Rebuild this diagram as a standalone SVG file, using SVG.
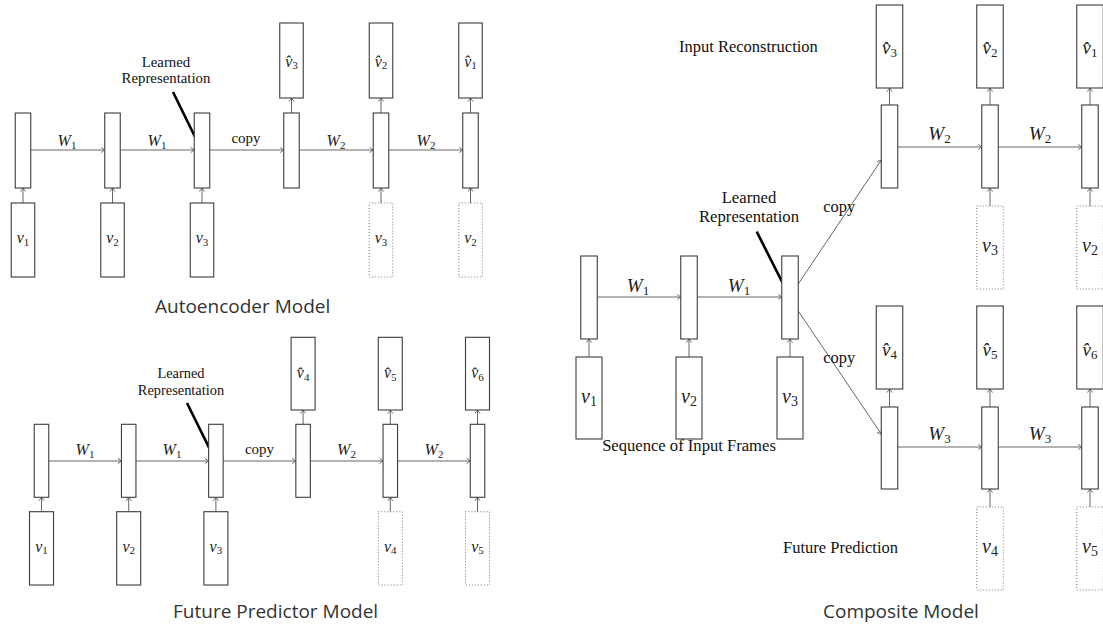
<svg xmlns="http://www.w3.org/2000/svg" width="1103" height="626" viewBox="0 0 1103 626">
  <defs>
    <style>
      .box { fill: #fff; stroke: #3c3c3c; stroke-width: 1.1; }
      .dot { fill: #fff; stroke: #777; stroke-width: 1; stroke-dasharray: 1 2; }
      .wire { fill: none; stroke: #666; stroke-width: 1; marker-end: url(#tip); }
      .ptr { stroke: #000; stroke-width: 2.6; stroke-linecap: butt; }
      .m { font-family: "Liberation Serif", "DejaVu Serif", serif; font-style: italic; text-anchor: middle; fill: #222; }
      .m tspan { font-style: normal; }
      .s { font-family: "Liberation Serif", "Times New Roman", serif; fill: #111; }
      .cap { font-family: "Open Sans", "Noto Sans", sans-serif; font-size: 19px; fill: #333; }
      .mid { text-anchor: middle; }
    </style>
    <marker id="tip" markerWidth="8" markerHeight="8" refX="0" refY="0" viewBox="-5 -4 6 8" orient="auto" markerUnits="userSpaceOnUse">
      <path d="M -3.5 -2.6 Q -1 -0.6 0 0 Q -1 0.6 -3.5 2.6" fill="none" stroke="#555" stroke-width="0.9"/>
    </marker>
  </defs>
  <rect width="1103" height="626" fill="#fff"/>

  <!-- ============ Autoencoder Model ============ -->
  <g id="connectors-autoencoder">
    <line class="wire" x1="30.75" y1="150" x2="104.75" y2="150"/>
    <line class="wire" x1="120.25" y1="150" x2="194.25" y2="150"/>
    <line class="wire" x1="209.75" y1="150" x2="283.75" y2="150"/>
    <line class="wire" x1="299.25" y1="150" x2="373.25" y2="150"/>
    <line class="wire" x1="388.75" y1="150" x2="462.75" y2="150"/>
    <line class="wire" x1="23" y1="203" x2="23" y2="188"/>
    <line class="wire" x1="112.5" y1="203" x2="112.5" y2="188"/>
    <line class="wire" x1="202" y1="203" x2="202" y2="188"/>
    <line class="wire" x1="381" y1="203" x2="381" y2="188"/>
    <line class="wire" x1="470.5" y1="203" x2="470.5" y2="188"/>
    <line class="wire" x1="291.5" y1="113" x2="291.5" y2="98"/>
    <line class="wire" x1="381" y1="113" x2="381" y2="98"/>
    <line class="wire" x1="470.5" y1="113" x2="470.5" y2="98"/>
    <line class="ptr" x1="173" y1="92" x2="199" y2="145"/>
  </g>
  <g id="ae-enc1"><rect class="box" x="15.25" y="113" width="15.5" height="75"/></g>
  <g id="ae-enc2"><rect class="box" x="104.75" y="113" width="15.5" height="75"/></g>
  <g id="ae-enc3"><rect class="box" x="194.25" y="113" width="15.5" height="75"/></g>
  <g id="ae-dec1"><rect class="box" x="283.75" y="113" width="15.5" height="75"/></g>
  <g id="ae-dec2"><rect class="box" x="373.25" y="113" width="15.5" height="75"/></g>
  <g id="ae-dec3"><rect class="box" x="462.75" y="113" width="15.5" height="75"/></g>
  <g id="ae-in1"><rect class="box" x="11.25" y="203" width="23.5" height="74"/><text class="m" x="23" y="243" font-size="16">v<tspan font-size="11" dy="2.5">1</tspan></text></g>
  <g id="ae-in2"><rect class="box" x="100.75" y="203" width="23.5" height="74"/><text class="m" x="112.5" y="243" font-size="16">v<tspan font-size="11" dy="2.5">2</tspan></text></g>
  <g id="ae-in3"><rect class="box" x="190.25" y="203" width="23.5" height="74"/><text class="m" x="202" y="243" font-size="16">v<tspan font-size="11" dy="2.5">3</tspan></text></g>
  <g id="ae-cond1"><rect class="dot" x="369.25" y="203" width="23.5" height="74"/><text class="m" x="381" y="243" font-size="16">v<tspan font-size="11" dy="2.5">3</tspan></text></g>
  <g id="ae-cond2"><rect class="dot" x="458.75" y="203" width="23.5" height="74"/><text class="m" x="470.5" y="243" font-size="16">v<tspan font-size="11" dy="2.5">2</tspan></text></g>
  <g id="ae-out1"><rect class="box" x="279.75" y="23" width="23.5" height="75"/><text class="m" x="291.5" y="66.5" font-size="16">v̂<tspan font-size="11" dy="2.5">3</tspan></text></g>
  <g id="ae-out2"><rect class="box" x="369.25" y="23" width="23.5" height="75"/><text class="m" x="381" y="66.5" font-size="16">v̂<tspan font-size="11" dy="2.5">2</tspan></text></g>
  <g id="ae-out3"><rect class="box" x="458.75" y="23" width="23.5" height="75"/><text class="m" x="470.5" y="66.5" font-size="16">v̂<tspan font-size="11" dy="2.5">1</tspan></text></g>
  <g id="ae-labels">
    <text class="m" x="67" y="146" font-size="16">W<tspan font-size="11" dy="2.5">1</tspan></text>
    <text class="m" x="157" y="146" font-size="16">W<tspan font-size="11" dy="2.5">1</tspan></text>
    <text class="s mid" x="246" y="143" font-size="15">copy</text>
    <text class="m" x="336" y="146" font-size="16">W<tspan font-size="11" dy="2.5">2</tspan></text>
    <text class="m" x="426" y="146" font-size="16">W<tspan font-size="11" dy="2.5">2</tspan></text>
    <text class="s mid" x="166" y="66.5" font-size="14.8">Learned</text>
    <text class="s mid" x="166" y="83" font-size="14.8">Representation</text>
    <text class="cap" x="155" y="313">Autoencoder Model</text>
  </g>

  <!-- ============ Future Predictor Model ============ -->
  <g id="connectors-predictor">
    <line class="wire" x1="48.75" y1="461" x2="121.45" y2="461"/>
    <line class="wire" x1="135.95" y1="461" x2="208.65" y2="461"/>
    <line class="wire" x1="223.15" y1="461" x2="295.85" y2="461"/>
    <line class="wire" x1="310.35" y1="461" x2="383.05" y2="461"/>
    <line class="wire" x1="397.55" y1="461" x2="470.25" y2="461"/>
    <line class="wire" x1="41.5" y1="511.7" x2="41.5" y2="497.3"/>
    <line class="wire" x1="128.7" y1="511.7" x2="128.7" y2="497.3"/>
    <line class="wire" x1="215.9" y1="511.7" x2="215.9" y2="497.3"/>
    <line class="wire" x1="390.3" y1="511.7" x2="390.3" y2="497.3"/>
    <line class="wire" x1="477.5" y1="511.7" x2="477.5" y2="497.3"/>
    <line class="wire" x1="303.1" y1="424.3" x2="303.1" y2="410"/>
    <line class="wire" x1="390.3" y1="424.3" x2="390.3" y2="410"/>
    <line class="wire" x1="477.5" y1="424.3" x2="477.5" y2="410"/>
    <line class="ptr" x1="187" y1="403" x2="213" y2="455.7"/>
  </g>
  <g id="fp-enc1"><rect class="box" x="34.25" y="424.3" width="14.5" height="73"/></g>
  <g id="fp-enc2"><rect class="box" x="121.45" y="424.3" width="14.5" height="73"/></g>
  <g id="fp-enc3"><rect class="box" x="208.65" y="424.3" width="14.5" height="73"/></g>
  <g id="fp-dec1"><rect class="box" x="295.85" y="424.3" width="14.5" height="73"/></g>
  <g id="fp-dec2"><rect class="box" x="383.05" y="424.3" width="14.5" height="73"/></g>
  <g id="fp-dec3"><rect class="box" x="470.25" y="424.3" width="14.5" height="73"/></g>
  <g id="fp-in1"><rect class="box" x="29.5" y="511.7" width="24" height="73.3"/><text class="m" x="41.5" y="551.7" font-size="16">v<tspan font-size="11" dy="2.5">1</tspan></text></g>
  <g id="fp-in2"><rect class="box" x="116.7" y="511.7" width="24" height="73.3"/><text class="m" x="128.7" y="551.7" font-size="16">v<tspan font-size="11" dy="2.5">2</tspan></text></g>
  <g id="fp-in3"><rect class="box" x="203.9" y="511.7" width="24" height="73.3"/><text class="m" x="215.9" y="551.7" font-size="16">v<tspan font-size="11" dy="2.5">3</tspan></text></g>
  <g id="fp-cond1"><rect class="dot" x="378.3" y="511.7" width="24" height="73.3"/><text class="m" x="390.3" y="551.7" font-size="16">v<tspan font-size="11" dy="2.5">4</tspan></text></g>
  <g id="fp-cond2"><rect class="dot" x="465.5" y="511.7" width="24" height="73.3"/><text class="m" x="477.5" y="551.7" font-size="16">v<tspan font-size="11" dy="2.5">5</tspan></text></g>
  <g id="fp-out1"><rect class="box" x="291.1" y="337.3" width="24" height="72.7"/><text class="m" x="303.1" y="378" font-size="16">v̂<tspan font-size="11" dy="2.5">4</tspan></text></g>
  <g id="fp-out2"><rect class="box" x="378.3" y="337.3" width="24" height="72.7"/><text class="m" x="390.3" y="378" font-size="16">v̂<tspan font-size="11" dy="2.5">5</tspan></text></g>
  <g id="fp-out3"><rect class="box" x="465.5" y="337.3" width="24" height="72.7"/><text class="m" x="477.5" y="378" font-size="16">v̂<tspan font-size="11" dy="2.5">6</tspan></text></g>
  <g id="fp-labels">
    <text class="m" x="85" y="455" font-size="16">W<tspan font-size="11" dy="2.5">1</tspan></text>
    <text class="m" x="172" y="455" font-size="16">W<tspan font-size="11" dy="2.5">1</tspan></text>
    <text class="s mid" x="259.5" y="454" font-size="15">copy</text>
    <text class="m" x="346.5" y="455" font-size="16">W<tspan font-size="11" dy="2.5">2</tspan></text>
    <text class="m" x="434" y="455" font-size="16">W<tspan font-size="11" dy="2.5">2</tspan></text>
    <text class="s mid" x="181" y="378.3" font-size="14.4">Learned</text>
    <text class="s mid" x="181" y="395" font-size="14.4">Representation</text>
    <text class="cap" x="173" y="618">Future Predictor Model</text>
  </g>

  <!-- ============ Composite Model ============ -->
  <g id="connectors-composite">
    <line class="wire" x1="597.25" y1="297" x2="680.75" y2="297"/>
    <line class="wire" x1="697.25" y1="297" x2="781.75" y2="297"/>
    <line class="wire" x1="589" y1="357" x2="589" y2="339"/>
    <line class="wire" x1="689" y1="357" x2="689" y2="339"/>
    <line class="wire" x1="790" y1="357" x2="790" y2="339"/>
    <line class="wire" x1="798.25" y1="284" x2="881.25" y2="160"/>
    <line class="wire" x1="798.25" y1="311" x2="881.25" y2="434"/>
    <line class="wire" x1="897.75" y1="147" x2="981.75" y2="147"/>
    <line class="wire" x1="998.25" y1="147" x2="1081.75" y2="147"/>
    <line class="wire" x1="897.75" y1="447" x2="981.75" y2="447"/>
    <line class="wire" x1="998.25" y1="447" x2="1081.75" y2="447"/>
    <line class="wire" x1="889.5" y1="105" x2="889.5" y2="88"/>
    <line class="wire" x1="990" y1="105" x2="990" y2="88"/>
    <line class="wire" x1="1090" y1="105" x2="1090" y2="88"/>
    <line class="wire" x1="990" y1="206" x2="990" y2="188"/>
    <line class="wire" x1="1090" y1="206" x2="1090" y2="188"/>
    <line class="wire" x1="889.5" y1="407" x2="889.5" y2="389"/>
    <line class="wire" x1="990" y1="407" x2="990" y2="389"/>
    <line class="wire" x1="1090" y1="407" x2="1090" y2="389"/>
    <line class="wire" x1="990" y1="507" x2="990" y2="489"/>
    <line class="wire" x1="1090" y1="507" x2="1090" y2="489"/>
    <line class="ptr" x1="756.7" y1="231.7" x2="786.7" y2="291"/>
  </g>
  <g id="cm-enc1"><rect class="box" x="580.75" y="256" width="16.5" height="83"/></g>
  <g id="cm-enc2"><rect class="box" x="680.75" y="256" width="16.5" height="83"/></g>
  <g id="cm-enc3"><rect class="box" x="781.75" y="256" width="16.5" height="83"/></g>
  <g id="cm-in1"><rect class="box" x="576" y="357" width="26" height="82"/><text class="m" x="589" y="402.5" font-size="20">v<tspan font-size="14" dy="3">1</tspan></text></g>
  <g id="cm-in2"><rect class="box" x="676" y="357" width="26" height="82"/><text class="m" x="689" y="402.5" font-size="20">v<tspan font-size="14" dy="3">2</tspan></text></g>
  <g id="cm-in3"><rect class="box" x="777" y="357" width="26" height="82"/><text class="m" x="790" y="402.5" font-size="20">v<tspan font-size="14" dy="3">3</tspan></text></g>

  <g id="cm-rec1"><rect class="box" x="881.25" y="105" width="16.5" height="83"/></g>
  <g id="cm-rec2"><rect class="box" x="981.75" y="105" width="16.5" height="83"/></g>
  <g id="cm-rec3"><rect class="box" x="1081.75" y="105" width="16.5" height="83"/></g>
  <g id="cm-recout1"><rect class="box" x="876.25" y="5" width="26.5" height="83"/><text class="m" x="889.5" y="54" font-size="19">v̂<tspan font-size="13" dy="3">3</tspan></text></g>
  <g id="cm-recout2"><rect class="box" x="976.75" y="5" width="26.5" height="83"/><text class="m" x="990" y="54" font-size="19">v̂<tspan font-size="13" dy="3">2</tspan></text></g>
  <g id="cm-recout3"><rect class="box" x="1076.75" y="5" width="26.5" height="83"/><text class="m" x="1090" y="54" font-size="19">v̂<tspan font-size="13" dy="3">1</tspan></text></g>
  <g id="cm-reccond1"><rect class="dot" x="976.75" y="206" width="26.5" height="83"/><text class="m" x="990" y="251.5" font-size="20">v<tspan font-size="14" dy="3">3</tspan></text></g>
  <g id="cm-reccond2"><rect class="dot" x="1076.75" y="206" width="26.5" height="83"/><text class="m" x="1090" y="251.5" font-size="20">v<tspan font-size="14" dy="3">2</tspan></text></g>

  <g id="cm-fut1"><rect class="box" x="881.25" y="407" width="16.5" height="82"/></g>
  <g id="cm-fut2"><rect class="box" x="981.75" y="407" width="16.5" height="82"/></g>
  <g id="cm-fut3"><rect class="box" x="1081.75" y="407" width="16.5" height="82"/></g>
  <g id="cm-futout1"><rect class="box" x="876.25" y="306" width="26.5" height="83"/><text class="m" x="889.5" y="355.5" font-size="19">v̂<tspan font-size="13" dy="3">4</tspan></text></g>
  <g id="cm-futout2"><rect class="box" x="976.75" y="306" width="26.5" height="83"/><text class="m" x="990" y="355.5" font-size="19">v̂<tspan font-size="13" dy="3">5</tspan></text></g>
  <g id="cm-futout3"><rect class="box" x="1076.75" y="306" width="26.5" height="83"/><text class="m" x="1090" y="355.5" font-size="19">v̂<tspan font-size="13" dy="3">6</tspan></text></g>
  <g id="cm-futcond1"><rect class="dot" x="976.75" y="507" width="26.5" height="83"/><text class="m" x="990" y="553" font-size="20">v<tspan font-size="14" dy="3">4</tspan></text></g>
  <g id="cm-futcond2"><rect class="dot" x="1076.75" y="507" width="26.5" height="83"/><text class="m" x="1090" y="553" font-size="20">v<tspan font-size="14" dy="3">5</tspan></text></g>

  <g id="cm-labels">
    <text class="m" x="638" y="291.5" font-size="19">W<tspan font-size="13" dy="3">1</tspan></text>
    <text class="m" x="739" y="291.5" font-size="19">W<tspan font-size="13" dy="3">1</tspan></text>
    <text class="m" x="939.5" y="140" font-size="19">W<tspan font-size="13" dy="3">2</tspan></text>
    <text class="m" x="1040" y="140" font-size="19">W<tspan font-size="13" dy="3">2</tspan></text>
    <text class="m" x="939.5" y="440" font-size="19">W<tspan font-size="13" dy="3">3</tspan></text>
    <text class="m" x="1040" y="440" font-size="19">W<tspan font-size="13" dy="3">3</tspan></text>
    <text class="s" x="823.3" y="211.5" font-size="16.4">copy</text>
    <text class="s" x="823.3" y="363" font-size="16.4">copy</text>
    <text class="s mid" x="749" y="203.3" font-size="16.7">Learned</text>
    <text class="s mid" x="749" y="221.7" font-size="16.7">Representation</text>
    <text class="s" x="679" y="52" font-size="16.5">Input Reconstruction</text>
    <text class="s mid" x="689" y="450.7" font-size="16.6">Sequence of Input Frames</text>
    <text class="s" x="783" y="553" font-size="16.5">Future Prediction</text>
    <text class="cap" x="823" y="618">Composite Model</text>
  </g>
</svg>
